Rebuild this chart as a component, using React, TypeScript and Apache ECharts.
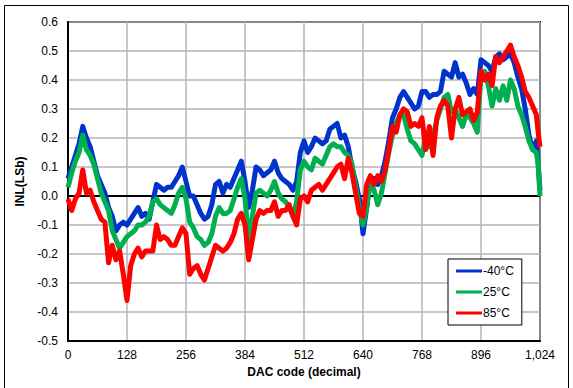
import React, { useEffect, useRef } from "react";
import * as echarts from "echarts";

const codes: number[] = [];
for (let c = 0; c <= 1016; c += 8) codes.push(c);
codes.push(1020, 1024);

const seriesNames = ["-40°C", "25°C", "85°C"];
const seriesColors = ["#0033CC", "#00B050", "#FF0000"];

const inlMinus40 = [
  0.06, 0.10, 0.14, 0.18, 0.24, 0.20, 0.17, 0.12,
  0.07, 0.04, 0.01, -0.04, -0.07, -0.12, -0.10, -0.09,
  -0.10, -0.08, -0.06, -0.04, -0.07, -0.06, -0.08, -0.02,
  0.04, 0.03, 0.02, 0.03, 0.03, 0.05, 0.07, 0.10,
  0.05, 0.00, 0.00, -0.03, -0.06, -0.08, -0.07, -0.03,
  0.04, 0.05, 0.01, 0.04, 0.03, 0.06, 0.09, 0.12,
  0.05, -0.04, 0.02, 0.10, 0.09, 0.07, 0.08, 0.09,
  0.12, 0.08, 0.06, 0.05, 0.04, 0.02, 0.05, 0.15,
  0.19, 0.15, 0.17, 0.20, 0.19, 0.18, 0.19, 0.23,
  0.24, 0.25, 0.20, 0.21, 0.17, 0.10, 0.05, -0.01,
  -0.13, -0.04, 0.06, 0.06, 0.04, 0.07, 0.12, 0.19,
  0.27, 0.30, 0.34, 0.36, 0.34, 0.32, 0.30, 0.31,
  0.36, 0.36, 0.34, 0.35, 0.35, 0.36, 0.43, 0.42,
  0.41, 0.46, 0.41, 0.42, 0.39, 0.35, 0.37, 0.35,
  0.47, 0.46, 0.45, 0.43, 0.48, 0.49, 0.47, 0.48,
  0.49, 0.46, 0.41, 0.37, 0.30, 0.21, 0.16, 0.19,
  0.11, 0.02,
];

const inl25 = [
  0.03, 0.08, 0.12, 0.15, 0.21, 0.16, 0.14, 0.11,
  0.06, 0.01, -0.02, -0.05, -0.12, -0.15, -0.18, -0.16,
  -0.14, -0.13, -0.12, -0.10, -0.10, -0.09, -0.07, -0.02,
  -0.01, -0.03, -0.04, -0.05, -0.06, -0.03, 0.01, 0.03,
  -0.01, -0.09, -0.11, -0.14, -0.15, -0.17, -0.16, -0.13,
  -0.07, -0.04, -0.06, -0.06, -0.05, -0.01, 0.03, 0.06,
  -0.01, -0.15, -0.07, 0.01, 0.02, 0.01, 0.00, 0.02,
  0.05, 0.01, -0.01, -0.02, -0.04, -0.07, -0.02, 0.09,
  0.12, 0.10, 0.09, 0.13, 0.12, 0.11, 0.14, 0.17,
  0.18, 0.17, 0.17, 0.15, 0.14, 0.11, 0.03, -0.04,
  -0.10, -0.04, 0.05, 0.02, -0.03, 0.01, 0.08, 0.15,
  0.21, 0.25, 0.28, 0.28, 0.23, 0.19, 0.18, 0.16,
  0.14, 0.20, 0.17, 0.21, 0.26, 0.30, 0.34, 0.35,
  0.29, 0.30, 0.27, 0.24, 0.28, 0.27, 0.25, 0.22,
  0.42, 0.43, 0.38, 0.31, 0.37, 0.33, 0.38, 0.33,
  0.40, 0.37, 0.31, 0.28, 0.24, 0.19, 0.16, 0.15,
  0.11, 0.00,
];

const inl85 = [
  -0.01, -0.05, -0.01, 0.01, 0.09, 0.01, 0.02, -0.02,
  -0.05, -0.08, -0.09, -0.23, -0.17, -0.22, -0.19, -0.27,
  -0.36, -0.24, -0.20, -0.18, -0.21, -0.19, -0.19, -0.19,
  -0.10, -0.15, -0.14, -0.15, -0.17, -0.17, -0.14, -0.11,
  -0.13, -0.27, -0.25, -0.24, -0.27, -0.29, -0.25, -0.21,
  -0.17, -0.18, -0.19, -0.18, -0.16, -0.13, -0.08, -0.06,
  -0.10, -0.22, -0.15, -0.08, -0.05, -0.06, -0.05, -0.05,
  -0.02, -0.07, -0.05, -0.05, -0.03, -0.07, -0.10, -0.01,
  0.00, -0.02, 0.02, 0.03, 0.04, 0.02, 0.04, 0.06,
  0.08, 0.10, 0.11, 0.06, 0.13, 0.08, 0.01, -0.06,
  -0.07, 0.04, 0.07, 0.04, 0.07, 0.05, 0.09, 0.16,
  0.24, 0.22, 0.28, 0.30, 0.29, 0.24, 0.25, 0.24,
  0.27, 0.16, 0.24, 0.14, 0.27, 0.31, 0.33, 0.31,
  0.20, 0.30, 0.34, 0.28, 0.29, 0.30, 0.26, 0.29,
  0.43, 0.40, 0.42, 0.38, 0.48, 0.46, 0.48, 0.50,
  0.52, 0.48, 0.45, 0.41, 0.36, 0.34, 0.31, 0.28,
  0.22, 0.17,
];

const xTicks = { min: 0, max: 1024, interval: 128 };
const yTicks = { min: -0.5, max: 0.6, interval: 0.1 };

const FONT = "'Liberation Sans', Arial, sans-serif";

export default function App() {
  const ref = useRef<HTMLDivElement>(null);
  useEffect(() => {
    if (!ref.current) return;
    const chart = echarts.init(ref.current, undefined, { renderer: "svg" });
    const values = [inlMinus40, inl25, inl85];
    const series: any[] = [
      {
        name: "zero",
        type: "line",
        data: [[xTicks.min, 0], [xTicks.max, 0]],
        symbol: "none",
        lineStyle: { color: "#000", width: 2 },
        silent: true,
        z: 1,
      },
    ];
    values.forEach((vals, i) => {
      series.push({
        name: seriesNames[i],
        type: "line",
        data: codes.map((c, k) => [c, vals[k]]),
        symbol: "none",
        lineStyle: { color: seriesColors[i], width: 5, join: "round" },
        itemStyle: { color: seriesColors[i] },
        z: 2 + i,
      });
    });
    chart.setOption({
      animation: false,
      textStyle: { fontFamily: FONT },
      graphic: [
        {
          type: "rect",
          shape: { x: 4.5, y: 5.5, width: 564, height: 392 },
          style: { fill: "none", stroke: "#000", lineWidth: 1 },
          silent: true,
        },
      ],
      grid: {
        left: 68,
        right: 33,
        top: 22,
        bottom: 47,
        show: true,
        borderColor: "#000",
        borderWidth: 2,
        backgroundColor: "#fff",
      },
      legend: {
        data: seriesNames,
        orient: "vertical",
        left: 448,
        top: 259,
        padding: [6, 8, 6, 8],
        itemWidth: 26,
        itemHeight: 3,
        itemGap: 9,
        icon: "rect",
        borderColor: "#000",
        borderWidth: 1,
        backgroundColor: "#fff",
        borderRadius: 0,
        textStyle: { fontFamily: FONT, fontSize: 12, color: "#000", padding: [0, 0, 0, -4] },
      },
      xAxis: {
        type: "value",
        min: xTicks.min,
        max: xTicks.max,
        interval: xTicks.interval,
        name: "DAC code (decimal)",
        nameLocation: "middle",
        nameGap: 25,
        nameTextStyle: { fontFamily: FONT, fontSize: 12, fontWeight: "bold", color: "#000" },
        axisLine: { show: true, onZero: false, lineStyle: { color: "#000", width: 2 } },
        axisTick: { show: false },
        axisLabel: {
          margin: 8,
          fontFamily: FONT,
          fontSize: 12,
          color: "#000",
          formatter: (v: number) => v.toLocaleString("en-US"),
        },
        splitLine: { show: true, lineStyle: { color: "#b4b4b4", width: 1.5 } },
      },
      yAxis: {
        type: "value",
        min: yTicks.min,
        max: yTicks.max,
        interval: yTicks.interval,
        name: "INL(LSb)",
        nameLocation: "middle",
        nameGap: 34,
        nameTextStyle: { fontFamily: FONT, fontSize: 12, fontWeight: "bold", color: "#000" },
        axisLine: { show: true, onZero: false, lineStyle: { color: "#000", width: 2 } },
        axisTick: { show: false },
        axisLabel: {
          margin: 10,
          fontFamily: FONT,
          fontSize: 12,
          color: "#000",
          formatter: (v: number) => (Math.abs(v) < 1e-9 ? 0 : v).toFixed(1),
        },
        splitLine: { show: true, lineStyle: { color: "#b4b4b4", width: 1.5 } },
      },
      series,
    });
    return () => chart.dispose();
  }, []);
  return (
    <div
      ref={ref}
      style={{ position: "absolute", left: 0, top: 0, width: 573, height: 388, background: "#fff" }}
    />
  );
}
